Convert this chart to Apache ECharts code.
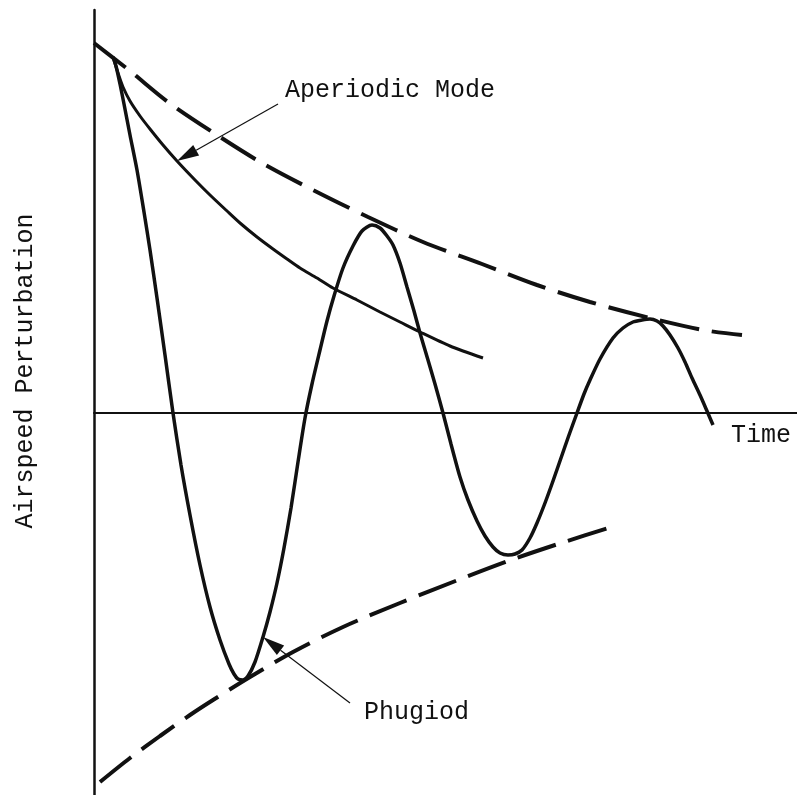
<!DOCTYPE html>
<html><head><meta charset="utf-8">
<script src="https://cdn.jsdelivr.net/npm/echarts/dist/echarts.min.js"></script>
<style>html,body{margin:0;padding:0;background:#fff}#c{width:797px;height:795px}</style>
</head><body><div id="c"></div>
<script>
// Phugoid oscillation (time, airspeed perturbation), arbitrary units
const phugoidT = [19,22,26,30,36,43,50,56,63,71,79,87,96,106,116,126,135,140,144,149,154,161,169,176,183,190,197,204,211,218,226,233,240,249,259,268,278,286,293,299,306,313,320,326,334,341,349,357,366,374,383,391,399,406,414,421,428,436,443,451,459,467,475,483,490,496,506,519,529,539,548,556,563,569,576,584,591,598,606,613,619];
const phugoidV = [356,347,329,309,278,243,201,163,115,58,0,-52,-102,-152,-194,-227,-251,-261,-266,-267,-263,-249,-224,-199,-170,-135,-95,-49,-5,29,63,92,117,145,167,182,188,185,177,168,150,126,102,80,53,29,0,-31,-64,-87,-108,-123,-134,-140,-142,-141,-137,-125,-110,-90,-68,-45,-22,0,19,33,54,75,85,91,93,94,92,87,78,65,51,35,18,2,-12];
// Aperiodic mode
const aperiodicT = [19,24,29,36,46,56,69,83,101,116,133,146,163,179,193,206,223,239,263,286,306,326,356,389];
const aperiodicV = [356,340,326,312,297,284,268,252,233,218,202,190,176,164,154,145,135,125,113,101,91,81,67,55];
// Upper envelope (dashed)
const upperEnvT = [0,36,74,123,168,219,274,329,388,443,496,556,609,648];
const upperEnvV = [370,342,311,278,250,223,196,171,149,128,111,95,83,78];
// Lower envelope (dashed)
const lowerEnvT = [6,36,66,96,119,156,199,249,306,364,414,464,524];
const lowerEnvV = [-369,-345,-323,-302,-287,-264,-239,-214,-190,-167,-148,-131,-112];

const xLabel = 'Time';
const yLabel = 'Airspeed Perturbation';
const aperiodicLabel = 'Aperiodic Mode';
const phugoidLabel = 'Phugiod';

const zip = (a, b) => a.map((t, i) => [t, b[i]]);
const ink = '#111';
const FONT = '"Liberation Mono","Courier New",monospace';
const FS = 25;
const chart = echarts.init(document.getElementById('c'), null, {renderer: 'canvas'});
const hidden = {axisTick: {show: false}, axisLabel: {show: false}, splitLine: {show: false}};
const dashed = {color: ink, width: 4, type: [40, 13], cap: 'butt'};
chart.setOption({
  animation: false,
  backgroundColor: '#fff',
  grid: {left: 94, top: 10, width: 703, height: 785},
  xAxis: Object.assign({type: 'value', min: 0, max: 703,
    axisLine: {show: true, onZero: true, lineStyle: {color: ink, width: 2}}}, hidden),
  yAxis: Object.assign({type: 'value', min: -382, max: 403,
    axisLine: {show: true, onZero: false, lineStyle: {color: ink, width: 2.5}}}, hidden),
  series: [
    {type: 'line', name: 'Upper envelope', data: zip(upperEnvT, upperEnvV), showSymbol: false, smooth: 0.3, lineStyle: dashed},
    {type: 'line', name: 'Lower envelope', data: zip(lowerEnvT, lowerEnvV), showSymbol: false, smooth: 0.3, lineStyle: dashed},
    {type: 'line', name: 'Aperiodic', data: zip(aperiodicT, aperiodicV), showSymbol: false, smooth: 0.25, lineStyle: {color: ink, width: 3}},
    {type: 'line', name: 'Phugoid', data: zip(phugoidT, phugoidV), showSymbol: false, smooth: 0.25, lineStyle: {color: ink, width: 3.5}}
  ]
});

function arrow(tipData, tailPx) {
  const tip = chart.convertToPixel({gridIndex: 0}, tipData);
  const dx = tailPx[0] - tip[0], dy = tailPx[1] - tip[1];
  const len = Math.hypot(dx, dy), ux = dx / len, uy = dy / len;
  const L = 22, W = 6;
  const bx = tip[0] + ux * L, by = tip[1] + uy * L;
  return [
    {type: 'line', shape: {x1: bx, y1: by, x2: tailPx[0], y2: tailPx[1]}, style: {stroke: ink, lineWidth: 1.2}},
    {type: 'polygon', shape: {points: [tip, [bx - uy * W, by + ux * W], [bx + uy * W, by - ux * W]]}, style: {fill: ink}}
  ];
}
const txt = (text, x, y) => ({type: 'text', x: x, y: y,
  style: {text: text, font: FS + 'px ' + FONT, fill: ink, textVerticalAlign: 'middle'}});

chart.setOption({graphic: [
  txt(aperiodicLabel, 285, 90),
  txt(phugoidLabel, 364, 712),
  txt(xLabel, 731, 435),
  {type: 'text', x: 25, y: 371, rotation: Math.PI / 2,
   style: {text: yLabel, font: FS + 'px ' + FONT, fill: ink, textAlign: 'center', textVerticalAlign: 'middle'}},
  ...arrow([83, 252], [278, 104]),
  ...arrow([169, -224], [350, 703])
]});
</script></body></html>
